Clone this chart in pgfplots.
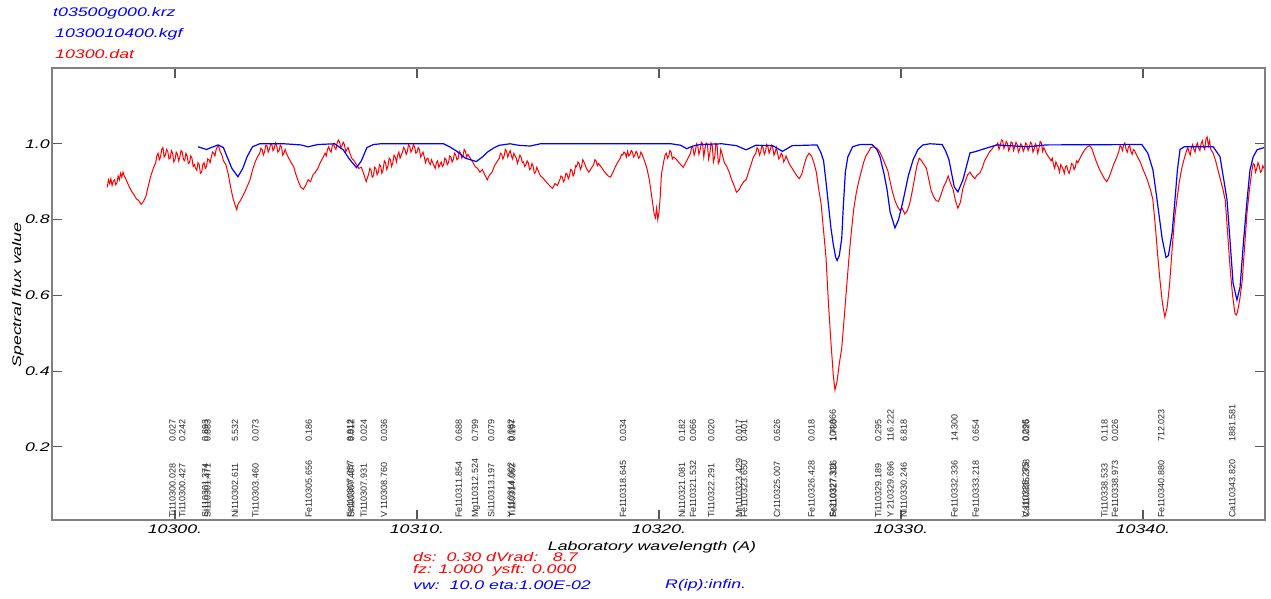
\documentclass[border=0pt]{standalone}
\usepackage{pgfplots}
\pgfplotsset{compat=1.18}
\usepackage{fontspec}
\setmainfont{Liberation Sans}
\newfontfamily\wfont[FakeStretch=1.42]{Liberation Sans}
\newfontfamily\lfont{Liberation Sans}
\newcommand{\wf}{\wfont\itshape\fontsize{12.5}{15}\selectfont}
\newcommand{\lf}{\lfont\fontsize{9}{10}\selectfont}
\definecolor{sblue}{RGB}{0,0,255}
\definecolor{sred}{RGB}{255,0,0}
\definecolor{frame}{RGB}{128,128,128}
\newcommand{\lab}[3]{%
  \node[rotate=90,anchor=base west,inner sep=0pt,font=\lf,text=black!85] at (axis cs:#1,0.012) {#2};
  \node[rotate=90,anchor=base west,inner sep=0pt,font=\lf,text=black!85] at (axis cs:#1,0.213) {#3};}
\begin{document}
\begin{tikzpicture}[x=1pt,y=1pt]
\useasboundingbox (0,0) rectangle (1271,598);
\begin{axis}[
  at={(52pt,78pt)}, anchor=south west, scale only axis,
  width=1213pt, height=452pt,
  xmin=10294.917, xmax=10345.041, ymin=0.007, ymax=1.2,
  scaled x ticks=false, scaled y ticks=false,
  xtick={10300,10310,10320,10330,10340},
  xticklabels={10300.,10310.,10320.,10330.,10340.},
  ytick={0.2,0.4,0.6,0.8,1.0},
  yticklabels={0.2,0.4,0.6,0.8,1.0},
  tick align=inside, tick pos=both,
  major tick length=10pt,
  axis line style={draw=frame,line width=1.6pt},
  tick style={draw=black!65,line width=1.2pt},
  xticklabel style={font=\wf,anchor=north,inner sep=0pt,yshift=-5pt},
  yticklabel style={font=\wf,anchor=east,inner sep=0pt,xshift=-2pt},
]
\addplot[sred,line width=1.0pt] table {
10297.20 0.885
10297.25 0.905
10297.30 0.895
10297.35 0.908
10297.40 0.890
10297.45 0.902
10297.50 0.905
10297.55 0.892
10297.60 0.897
10297.65 0.915
10297.70 0.905
10297.75 0.922
10297.80 0.912
10297.85 0.925
10297.90 0.915
10297.95 0.910
10298.00 0.902
10298.10 0.888
10298.20 0.875
10298.30 0.866
10298.40 0.855
10298.50 0.850
10298.60 0.840
10298.70 0.848
10298.80 0.862
10298.90 0.890
10299.00 0.915
10299.10 0.935
10299.20 0.950
10299.25 0.968
10299.30 0.975
10299.35 0.958
10299.40 0.965
10299.45 0.985
10299.50 0.990
10299.55 0.965
10299.60 0.970
10299.65 0.985
10299.70 0.980
10299.75 0.960
10299.80 0.962
10299.85 0.982
10299.90 0.975
10299.95 0.952
10300.00 0.958
10300.05 0.978
10300.10 0.972
10300.15 0.955
10300.20 0.965
10300.25 0.982
10300.30 0.978
10300.35 0.958
10300.40 0.955
10300.45 0.975
10300.50 0.968
10300.55 0.948
10300.60 0.950
10300.65 0.968
10300.70 0.962
10300.75 0.940
10300.80 0.945
10300.85 0.935
10300.90 0.930
10300.95 0.950
10301.00 0.945
10301.05 0.922
10301.10 0.925
10301.15 0.945
10301.20 0.950
10301.25 0.935
10301.30 0.940
10301.35 0.960
10301.40 0.958
10301.45 0.950
10301.50 0.965
10301.55 0.978
10301.60 0.975
10301.65 0.968
10301.70 0.985
10301.75 0.992
10301.80 0.995
10301.85 0.982
10301.90 0.975
10301.95 0.968
10302.00 0.955
10302.10 0.945
10302.20 0.920
10302.30 0.885
10302.40 0.855
10302.50 0.835
10302.55 0.826
10302.60 0.840
10302.70 0.850
10302.80 0.862
10302.90 0.875
10303.00 0.890
10303.10 0.905
10303.20 0.930
10303.30 0.950
10303.40 0.965
10303.50 0.975
10303.55 0.988
10303.60 0.985
10303.65 0.970
10303.70 0.978
10303.75 0.996
10303.80 0.995
10303.85 0.978
10303.90 0.985
10303.95 1.000
10304.00 0.998
10304.05 0.982
10304.10 0.988
10304.15 1.002
10304.20 0.995
10304.25 0.978
10304.30 0.982
10304.35 0.996
10304.40 0.992
10304.45 0.970
10304.50 0.975
10304.55 0.985
10304.60 0.975
10304.70 0.962
10304.80 0.950
10304.90 0.940
10305.00 0.918
10305.10 0.900
10305.20 0.885
10305.30 0.880
10305.40 0.890
10305.50 0.905
10305.60 0.900
10305.70 0.918
10305.80 0.925
10305.90 0.935
10306.00 0.950
10306.10 0.962
10306.20 0.975
10306.25 0.968
10306.30 0.985
10306.35 0.992
10306.40 0.982
10306.45 0.978
10306.50 0.995
10306.55 1.000
10306.60 0.990
10306.65 0.985
10306.70 1.002
10306.75 1.010
10306.80 1.005
10306.85 0.990
10306.90 0.995
10306.95 1.004
10307.00 0.998
10307.05 0.978
10307.10 0.985
10307.15 0.990
10307.20 0.980
10307.30 0.962
10307.40 0.955
10307.50 0.945
10307.60 0.935
10307.70 0.938
10307.80 0.920
10307.90 0.900
10308.00 0.920
10308.05 0.935
10308.10 0.930
10308.15 0.912
10308.20 0.915
10308.25 0.938
10308.30 0.935
10308.35 0.918
10308.40 0.925
10308.45 0.945
10308.50 0.940
10308.55 0.922
10308.60 0.932
10308.65 0.955
10308.70 0.950
10308.75 0.932
10308.80 0.942
10308.85 0.962
10308.90 0.958
10308.95 0.940
10309.00 0.950
10309.05 0.970
10309.10 0.965
10309.15 0.952
10309.20 0.970
10309.25 0.978
10309.30 0.962
10309.35 0.970
10309.40 0.978
10309.45 0.990
10309.50 0.985
10309.55 0.972
10309.60 0.980
10309.65 0.998
10309.70 0.992
10309.75 0.978
10309.80 0.985
10309.85 0.998
10309.90 0.992
10309.95 0.975
10310.00 0.978
10310.05 0.990
10310.10 0.985
10310.15 0.965
10310.20 0.972
10310.25 0.978
10310.30 0.965
10310.35 0.950
10310.40 0.960
10310.45 0.962
10310.50 0.950
10310.55 0.945
10310.60 0.958
10310.65 0.950
10310.70 0.942
10310.75 0.935
10310.80 0.950
10310.85 0.955
10310.90 0.938
10310.95 0.945
10311.00 0.952
10311.05 0.940
10311.10 0.945
10311.15 0.962
10311.20 0.958
10311.25 0.945
10311.30 0.950
10311.35 0.968
10311.40 0.965
10311.45 0.952
10311.50 0.958
10311.55 0.975
10311.60 0.970
10311.65 0.958
10311.70 0.962
10311.75 0.980
10311.80 0.975
10311.85 0.962
10311.90 0.968
10311.95 0.985
10312.00 0.980
10312.05 0.965
10312.10 0.972
10312.20 0.962
10312.30 0.952
10312.40 0.940
10312.50 0.935
10312.60 0.925
10312.70 0.932
10312.80 0.918
10312.90 0.905
10313.00 0.918
10313.10 0.925
10313.20 0.942
10313.30 0.952
10313.40 0.962
10313.45 0.975
10313.50 0.972
10313.55 0.960
10313.60 0.968
10313.65 0.985
10313.70 0.980
10313.75 0.965
10313.80 0.975
10313.85 0.982
10313.90 0.968
10313.95 0.960
10314.00 0.975
10314.05 0.968
10314.10 0.962
10314.15 0.948
10314.20 0.958
10314.25 0.970
10314.30 0.965
10314.35 0.950
10314.40 0.952
10314.45 0.940
10314.50 0.945
10314.55 0.955
10314.60 0.950
10314.65 0.932
10314.70 0.935
10314.75 0.948
10314.80 0.940
10314.85 0.922
10314.90 0.925
10314.95 0.938
10315.00 0.930
10315.10 0.915
10315.20 0.910
10315.30 0.902
10315.40 0.895
10315.50 0.888
10315.60 0.882
10315.70 0.895
10315.80 0.890
10315.90 0.905
10315.95 0.915
10316.00 0.912
10316.05 0.900
10316.10 0.905
10316.15 0.922
10316.20 0.920
10316.25 0.908
10316.30 0.915
10316.35 0.932
10316.40 0.930
10316.45 0.915
10316.50 0.922
10316.55 0.942
10316.60 0.940
10316.65 0.952
10316.70 0.948
10316.75 0.932
10316.80 0.940
10316.85 0.958
10316.90 0.952
10317.00 0.935
10317.10 0.925
10317.20 0.935
10317.30 0.945
10317.35 0.958
10317.40 0.955
10317.45 0.942
10317.50 0.948
10317.60 0.940
10317.70 0.930
10317.80 0.922
10317.90 0.915
10318.00 0.912
10318.10 0.925
10318.20 0.940
10318.30 0.952
10318.40 0.962
10318.45 0.972
10318.50 0.970
10318.55 0.978
10318.60 0.975
10318.65 0.965
10318.70 0.980
10318.75 0.968
10318.80 0.972
10318.85 0.982
10318.90 0.978
10318.95 0.965
10319.00 0.970
10319.05 0.980
10319.10 0.975
10319.15 0.962
10319.20 0.965
10319.25 0.978
10319.30 0.972
10319.40 0.955
10319.50 0.935
10319.60 0.905
10319.70 0.860
10319.80 0.815
10319.85 0.805
10319.90 0.830
10319.95 0.800
10320.00 0.820
10320.05 0.860
10320.10 0.920
10320.20 0.955
10320.25 0.970
10320.30 0.975
10320.35 0.962
10320.40 0.968
10320.45 0.982
10320.50 0.978
10320.55 0.960
10320.60 0.965
10320.70 0.960
10320.80 0.952
10320.90 0.945
10321.00 0.938
10321.10 0.950
10321.20 0.962
10321.30 0.975
10321.35 0.992
10321.40 0.990
10321.45 0.970
10321.50 0.980
10321.55 1.000
10321.60 0.995
10321.65 0.972
10321.70 0.985
10321.75 1.004
10321.80 1.000
10321.85 0.965
10321.90 0.988
10321.95 1.002
10322.00 0.998
10322.05 0.960
10322.10 0.975
10322.15 1.002
10322.20 0.995
10322.25 0.952
10322.30 0.965
10322.35 1.000
10322.40 0.998
10322.45 0.948
10322.50 0.955
10322.55 0.985
10322.60 0.975
10322.70 0.950
10322.80 0.940
10322.90 0.925
10323.00 0.905
10323.10 0.890
10323.20 0.872
10323.30 0.878
10323.40 0.890
10323.50 0.900
10323.60 0.905
10323.70 0.925
10323.80 0.945
10323.90 0.965
10324.00 0.975
10324.05 0.990
10324.10 0.985
10324.15 0.970
10324.20 0.978
10324.25 0.995
10324.30 0.990
10324.35 0.972
10324.40 0.980
10324.45 0.998
10324.50 0.992
10324.55 0.975
10324.60 0.985
10324.65 0.996
10324.70 0.990
10324.75 0.970
10324.80 0.978
10324.85 0.990
10324.90 0.975
10324.95 0.960
10325.00 0.965
10325.05 0.975
10325.10 0.970
10325.15 0.952
10325.20 0.958
10325.25 0.968
10325.30 0.960
10325.40 0.945
10325.50 0.935
10325.60 0.925
10325.70 0.915
10325.80 0.908
10325.90 0.920
10326.00 0.945
10326.10 0.965
10326.20 0.975
10326.30 0.968
10326.40 0.950
10326.50 0.925
10326.60 0.880
10326.70 0.840
10326.80 0.770
10326.90 0.700
10327.00 0.580
10327.10 0.480
10327.20 0.390
10327.27 0.350
10327.35 0.370
10327.45 0.420
10327.55 0.460
10327.65 0.540
10327.75 0.620
10327.85 0.700
10327.95 0.770
10328.05 0.830
10328.15 0.870
10328.25 0.900
10328.35 0.925
10328.45 0.950
10328.55 0.968
10328.65 0.978
10328.75 0.990
10328.85 0.992
10328.95 0.990
10329.05 0.985
10329.15 0.975
10329.25 0.960
10329.35 0.945
10329.45 0.930
10329.55 0.900
10329.65 0.872
10329.75 0.850
10329.85 0.835
10329.95 0.825
10330.05 0.830
10330.15 0.815
10330.25 0.822
10330.35 0.840
10330.45 0.870
10330.55 0.905
10330.65 0.940
10330.75 0.962
10330.85 0.955
10330.95 0.945
10331.05 0.935
10331.15 0.905
10331.25 0.875
10331.35 0.860
10331.45 0.850
10331.55 0.848
10331.65 0.865
10331.75 0.885
10331.85 0.898
10331.95 0.915
10332.05 0.895
10332.15 0.880
10332.25 0.850
10332.35 0.830
10332.45 0.845
10332.55 0.880
10332.65 0.900
10332.75 0.918
10332.85 0.925
10332.95 0.915
10333.05 0.908
10333.15 0.918
10333.25 0.922
10333.35 0.935
10333.45 0.955
10333.55 0.966
10333.65 0.978
10333.75 0.985
10333.85 0.995
10333.95 0.997
10334.00 1.002
10334.05 0.985
10334.10 0.995
10334.15 1.010
10334.20 1.008
10334.25 0.988
10334.30 0.995
10334.35 1.006
10334.40 1.000
10334.45 0.982
10334.50 0.990
10334.55 1.005
10334.60 1.002
10334.65 0.982
10334.70 0.992
10334.75 1.004
10334.80 0.998
10334.85 0.978
10334.90 0.985
10334.95 1.000
10335.00 0.995
10335.05 0.980
10335.10 0.988
10335.15 1.002
10335.20 0.998
10335.25 0.982
10335.30 0.990
10335.35 1.004
10335.40 1.000
10335.45 0.978
10335.50 0.985
10335.55 1.000
10335.60 0.995
10335.65 0.975
10335.70 0.988
10335.75 1.006
10335.80 1.002
10335.85 0.980
10335.90 0.990
10336.00 0.975
10336.10 0.965
10336.20 0.955
10336.25 0.962
10336.30 0.945
10336.35 0.935
10336.40 0.952
10336.45 0.945
10336.50 0.938
10336.55 0.925
10336.60 0.945
10336.65 0.940
10336.70 0.932
10336.75 0.922
10336.80 0.940
10336.85 0.942
10336.90 0.928
10336.95 0.922
10337.00 0.935
10337.05 0.948
10337.10 0.945
10337.15 0.932
10337.20 0.938
10337.25 0.955
10337.30 0.950
10337.40 0.962
10337.50 0.975
10337.60 0.985
10337.70 0.992
10337.80 0.995
10337.90 0.985
10338.00 0.965
10338.10 0.948
10338.20 0.932
10338.30 0.920
10338.40 0.908
10338.50 0.900
10338.60 0.912
10338.70 0.930
10338.80 0.948
10338.90 0.962
10339.00 0.980
10339.05 0.995
10339.10 0.992
10339.15 0.982
10339.20 0.998
10339.25 1.002
10339.30 0.985
10339.35 0.978
10339.40 0.992
10339.45 0.995
10339.50 0.980
10339.55 0.972
10339.60 0.985
10339.65 0.982
10339.70 0.975
10339.80 0.962
10339.90 0.950
10340.00 0.932
10340.10 0.918
10340.20 0.900
10340.30 0.880
10340.40 0.855
10340.50 0.790
10340.60 0.710
10340.70 0.640
10340.80 0.580
10340.90 0.543
10341.00 0.570
10341.10 0.630
10341.20 0.720
10341.30 0.800
10341.40 0.852
10341.50 0.900
10341.60 0.935
10341.70 0.960
10341.80 0.982
10341.85 0.990
10341.90 0.978
10341.95 0.970
10342.00 0.990
10342.05 0.998
10342.10 0.985
10342.15 0.978
10342.20 0.995
10342.25 1.002
10342.30 0.988
10342.35 0.982
10342.40 1.000
10342.45 1.008
10342.50 0.992
10342.55 0.985
10342.60 1.012
10342.65 1.018
10342.70 0.995
10342.75 1.008
10342.80 0.985
10342.90 0.975
10343.00 0.955
10343.10 0.930
10343.20 0.905
10343.30 0.880
10343.40 0.850
10343.50 0.760
10343.60 0.670
10343.70 0.600
10343.80 0.552
10343.85 0.548
10343.90 0.555
10344.00 0.590
10344.10 0.640
10344.20 0.730
10344.30 0.820
10344.40 0.880
10344.50 0.930
10344.55 0.948
10344.60 0.945
10344.65 0.925
10344.70 0.935
10344.75 0.950
10344.80 0.942
10344.85 0.925
10344.90 0.928
10344.95 0.942
10345.00 0.935
};
\addplot[sblue,line width=1.2pt] table {
10300.95 0.992
10301.30 0.985
10301.78 0.997
10302.00 0.990
10302.15 0.966
10302.35 0.935
10302.60 0.913
10302.80 0.935
10302.98 0.966
10303.20 0.992
10303.50 1.000
10304.50 1.000
10305.20 0.997
10305.50 0.992
10305.90 0.998
10306.60 1.000
10306.95 0.984
10307.20 0.960
10307.50 0.937
10307.70 0.955
10307.93 0.990
10308.20 0.998
10308.50 1.000
10311.10 1.000
10311.35 0.992
10311.65 0.980
10312.00 0.962
10312.45 0.953
10312.70 0.965
10312.93 0.979
10313.20 0.990
10313.40 0.996
10313.84 1.000
10314.20 0.996
10314.67 0.994
10315.10 1.000
10320.50 1.000
10320.90 0.996
10321.14 0.987
10321.40 0.994
10321.70 0.998
10322.60 1.000
10323.20 0.995
10323.60 0.984
10324.00 0.996
10324.70 0.995
10325.10 0.980
10325.50 0.995
10326.53 0.997
10326.70 0.975
10326.80 0.955
10326.90 0.900
10327.00 0.840
10327.10 0.780
10327.20 0.735
10327.30 0.700
10327.36 0.692
10327.45 0.705
10327.55 0.750
10327.62 0.840
10327.70 0.925
10327.80 0.965
10328.00 0.992
10328.30 0.998
10328.80 0.998
10329.00 0.985
10329.13 0.966
10329.30 0.920
10329.42 0.880
10329.55 0.820
10329.75 0.778
10329.90 0.800
10330.08 0.848
10330.30 0.915
10330.50 0.958
10330.70 0.985
10330.91 0.997
10331.20 1.000
10331.70 0.998
10331.85 0.980
10331.98 0.958
10332.20 0.886
10332.35 0.873
10332.56 0.905
10332.85 0.976
10333.06 0.979
10333.55 0.989
10333.97 0.997
10335.20 0.992
10336.00 0.997
10339.95 0.998
10340.20 0.975
10340.41 0.931
10340.58 0.852
10340.79 0.750
10340.95 0.700
10341.05 0.705
10341.20 0.764
10341.32 0.852
10341.42 0.930
10341.53 0.985
10341.70 0.992
10342.90 0.992
10343.18 0.966
10343.35 0.900
10343.47 0.852
10343.60 0.740
10343.72 0.633
10343.88 0.588
10344.01 0.622
10344.15 0.740
10344.30 0.852
10344.42 0.931
10344.55 0.965
10344.71 0.984
10345.00 0.990
};
\lab{10300.028}{Ti110300.028}{0.027}
\lab{10300.427}{Ti110300.427}{0.242}
\lab{10301.374}{Si110301.374}{0.893}
\lab{10301.471}{Si110301.471}{0.883}
\lab{10302.611}{Ni110302.611}{5.532}
\lab{10303.460}{Ti110303.460}{0.073}
\lab{10305.656}{Fe110305.656}{0.186}
\lab{10307.357}{Fe110307.357}{9.912}
\lab{10307.407}{Si110307.407}{0.012}
\lab{10307.931}{Ti110307.931}{0.024}
\lab{10308.760}{V 110308.760}{0.036}
\lab{10311.854}{Fe110311.854}{0.688}
\lab{10312.524}{Mg110312.524}{0.799}
\lab{10313.197}{Si110313.197}{0.079}
\lab{10314.002}{Y 110314.002}{0.082}
\lab{10314.062}{Ti110314.062}{0.197}
\lab{10318.645}{Fe110318.645}{0.034}
\lab{10321.081}{Ni110321.081}{0.182}
\lab{10321.532}{Fe110321.532}{0.066}
\lab{10322.291}{Ti110322.291}{0.020}
\lab{10323.429}{Mn110323.429}{0.017}
\lab{10323.650}{Fe110323.650}{0.401}
\lab{10325.007}{Cr110325.007}{0.626}
\lab{10326.428}{Fe110326.428}{0.018}
\lab{10327.311}{Sr210327.311}{104.866}
\lab{10327.336}{Fe110327.336}{1.730}
\lab{10329.189}{Ti110329.189}{0.295}
\lab{10329.696}{Y 210329.696}{116.222}
\lab{10330.246}{Ni110330.246}{6.818}
\lab{10332.336}{Fe110332.336}{14.300}
\lab{10333.218}{Fe110333.218}{0.654}
\lab{10335.275}{V 110335.275}{0.295}
\lab{10335.308}{Ca110335.308}{0.026}
\lab{10338.533}{Ti110338.533}{0.118}
\lab{10338.973}{Fe110338.973}{0.026}
\lab{10340.880}{Fe110340.880}{712.023}
\lab{10343.820}{Ca110343.820}{1881.581}
\end{axis}
\node[font=\wf,text=sblue,anchor=west,inner sep=0pt] at (53,585) {t03500g000.krz};
\node[font=\wf,text=sblue,anchor=west,inner sep=0pt] at (55,564) {1030010400.kgf};
\node[font=\wf,text=sred,anchor=west,inner sep=0pt] at (55,544) {10300.dat};
\node[font=\wf,rotate=90,inner sep=0pt] at (18,303) {Spectral flux value};
\node[font=\wf,inner sep=0pt] at (652,51) {Laboratory wavelength (A)};
\node[font=\wf,text=sred,anchor=west,inner sep=0pt] at (413,41) {ds:~~0.30 dVrad:~~~8.7};
\node[font=\wf,text=sred,anchor=west,inner sep=0pt] at (413,28) {fz: 1.000~~ysft: 0.000};
\node[font=\wf,text=sblue,anchor=west,inner sep=0pt] at (413,13) {vw:~~10.0 eta:1.00E-02};
\node[font=\wf,text=sblue,anchor=west,inner sep=0pt] at (665,13) {R(ip):infin.};
\end{tikzpicture}
\end{document}
